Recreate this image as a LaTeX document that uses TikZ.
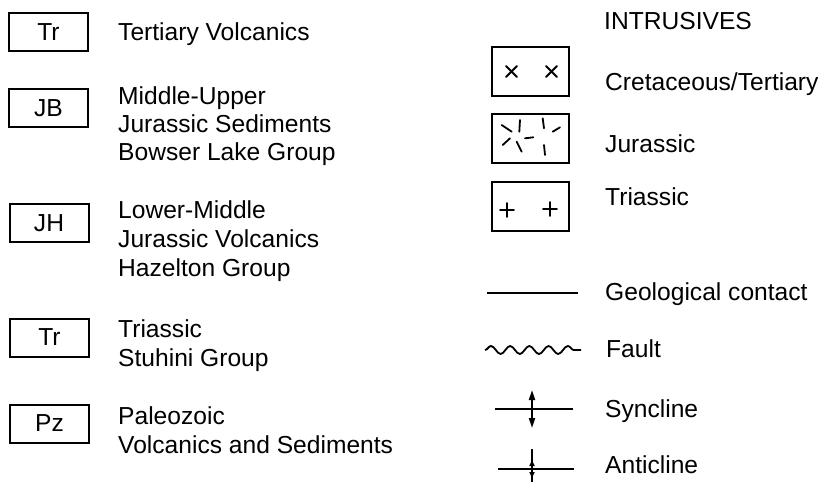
\documentclass[tikz,border=0pt]{standalone}
\usepackage{fontspec}
\setmainfont{Liberation Sans}
\usetikzlibrary{arrows.meta,decorations.pathmorphing}
\begin{document}
\begin{tikzpicture}[x=1pt,y=-1pt,
  legtext/.style={anchor=base west,inner sep=0pt,font=\fontsize{24.6}{28}\selectfont},
  unitbox/.style={draw,line width=2pt,minimum width=79pt,minimum height=38pt,
    inner sep=0pt,font=\fontsize{24.6}{28}\selectfont},
  intrbox/.style={draw,line width=2pt,minimum width=77pt,minimum height=49pt,inner sep=0pt},
  tick/.style={line width=1.8pt,line cap=round},
  symline/.style={line width=1.8pt}
]
\useasboundingbox (0,0) rectangle (824,484);

% ---- stratigraphic units ----
\node[unitbox] (tr1) at (48.5,32) {Tr};
\node[legtext] (tr1a) at (118,41) {Tertiary Volcanics};

\node[unitbox] (jb) at (48.5,108) {JB};
\node[legtext] (jba) at (118,105) {Middle-Upper};
\node[legtext] (jbb) at (118,132) {Jurassic Sediments};
\node[legtext] (jbc) at (118,160) {Bowser Lake Group};

\node[unitbox] (jh) at (49,223) {JH};
\node[legtext] (jha) at (118,218) {Lower-Middle};
\node[legtext] (jhb) at (118,247) {Jurassic Volcanics};
\node[legtext] (jhc) at (118,276) {Hazelton Group};

\node[unitbox] (tr2) at (49.5,337.5) {Tr};
\node[legtext] (tr2a) at (118,337) {Triassic};
\node[legtext] (tr2b) at (118,366) {Stuhini Group};

\node[unitbox] (pz) at (49.5,423.5) {Pz};
\node[legtext] (pza) at (118,424) {Paleozoic};
\node[legtext] (pzb) at (118,453) {Volcanics and Sediments};

% ---- intrusives ----
\node[legtext] (intr) at (604,30) {INTRUSIVES};

\node[intrbox] (ct) at (530.5,72) {};
\draw[tick] (506,66) -- (517,77) (506,77) -- (517,66);
\draw[tick] (546,66) -- (557,77) (546,77) -- (557,66);
\node[legtext] (cta) at (605,91) {Cretaceous/Tertiary};

\node[intrbox] (ju) at (530.5,138.5) {};
\draw[tick] (501.7,125) -- (511.7,131.7);
\draw[tick] (520,120) -- (519.3,131.7);
\draw[tick] (542.7,118.3) -- (544,128.3);
\draw[tick] (552.7,131.7) -- (560,127.3);
\draw[tick] (502.7,145) -- (510,138.3);
\draw[tick] (516.7,141.7) -- (521.7,151.7);
\draw[tick] (525,138.3) -- (533.3,137.3);
\draw[tick] (544,145) -- (545,155);
\node[legtext] (jua) at (605,152) {Jurassic};

\node[intrbox] (tri) at (530.5,206) {};
\draw[tick] (500,210) -- (514,210) (507,203) -- (507,217);
\draw[tick] (543,209) -- (557,209) (550,202) -- (550,216);
\node[legtext] (tria) at (605,205) {Triassic};

% ---- line symbols ----
\coordinate (gcL) at (487,293);
\coordinate (gcR) at (578,293);
\draw[symline] (gcL) -- (gcR);
\node[legtext] (gc) at (605,300) {Geological contact};

\coordinate (fL) at (485,350);
\coordinate (fR) at (581,350);
\draw[line width=1.8pt,decorate,
  decoration={snake,segment length=19.2pt,amplitude=4pt}] (fL) -- (fR);
\node[legtext] (fa) at (606,357) {Fault};

\coordinate (sL) at (495,409);
\coordinate (sR) at (573,409);
\coordinate (sC) at (532,409);
\coordinate (sT) at (532,390);
\coordinate (sB) at (532,428);
\draw[symline] (sL) -- (sR);
\draw[symline,-{Triangle[width=6pt,length=10pt]}] (sC) -- (sT);
\draw[symline,-{Triangle[width=6pt,length=10pt]}] (sC) -- (sB);
\node[legtext] (sa) at (605,417) {Syncline};

\coordinate (aL) at (498,469);
\coordinate (aR) at (574,469);
\coordinate (aT) at (532,449);
\coordinate (aB) at (532,482);
\coordinate (aC) at (532,469);
\draw[symline] (aL) -- (aR);
\draw[symline] (aT) -- (aB);
\draw[symline,-{Triangle[width=5pt,length=6pt]}] (aC) -- ++(0,-9);
\draw[symline,-{Triangle[width=5pt,length=6pt]}] (aC) -- ++(0,9);
\node[legtext] (aa) at (605,473) {Anticline};
\end{tikzpicture}
\end{document}
